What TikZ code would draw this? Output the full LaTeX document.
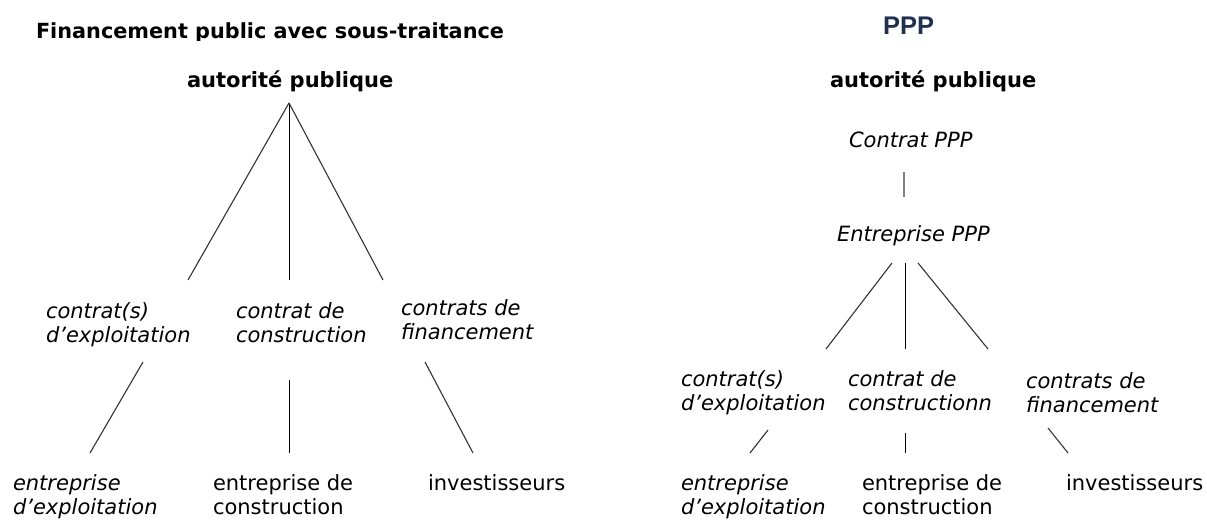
\documentclass[tikz,border=0pt]{standalone}
\usepackage{fontspec}
\setmainfont{DejaVu Sans}
\newfontfamily\headfont{Liberation Sans}
\definecolor{headblue}{HTML}{1F3050}
\begin{document}
\begin{tikzpicture}[x=1pt,y=-1pt,
  txt/.style={inner sep=0pt,outer sep=0pt,anchor=base west,font=\fontsize{21}{24}\selectfont},
  txtbold/.style={txt,font=\fontsize{21}{24}\selectfont\bfseries},
  multi/.style={inner sep=0pt,outer sep=0pt,anchor=north west,align=left,font=\fontsize{21}{24}\selectfont},
  multiit/.style={multi,font=\fontsize{21}{24}\selectfont\itshape},
  link/.style={line width=1.1pt,black!80},
  vlink/.style={line width=1pt,black},
  glink/.style={line width=1.8pt,black!50}
]
\useasboundingbox (0,0) rectangle (1207,521);
\fill[white] (0,0) rectangle (1207,521);

% ---------- left diagram ----------
\begin{scope}
\clip (0,0) rectangle (600,40.5);
\node[txt,font=\fontsize{20.8}{24}\selectfont\bfseries] (title) at (36,39) {Financement public avec sous-traitance};
\end{scope}
\node[txtbold] (apL) at (187,88) {autorité publique};
\coordinate (apexL) at (289,103);
\coordinate (l1) at (188,280);
\coordinate (m1) at (289,280);
\coordinate (r1) at (383,280);
\draw[link] (apexL) -- (l1);
\draw[vlink] (apexL) -- (m1);
\draw[link] (apexL) -- (r1);

\node[multiit] (cexL) at (46,301.2) {\strut contrat(s)\\d’exploitation};
\node[multiit] (ccoL) at (236,301.2) {\strut contrat de\\construction};
\node[multiit] (cfiL) at (401,298.2) {\strut contrats de\\financement};

\coordinate (l2a) at (143,362); \coordinate (l2b) at (90,453);
\coordinate (m2a) at (289,380); \coordinate (m2b) at (289,453);
\coordinate (r2a) at (425,362); \coordinate (r2b) at (473,453);
\draw[link] (l2a) -- (l2b);
\draw[vlink] (m2a) -- (m2b);
\draw[link] (r2a) -- (r2b);

\node[multiit] (eexL) at (13,473.2) {\strut entreprise\\d’exploitation};
\node[multi] (ecoL) at (213,473.2) {\strut entreprise de\\construction};
\node[txt] (invL) at (428,490) {investisseurs};

% ---------- right diagram ----------
\node[txt,font=\fontsize{25.5}{28}\selectfont\headfont\bfseries,text=headblue] (ppp) at (883,35) {PPP};
\node[txtbold] (apR) at (830,88) {autorité publique};
\node[txt,font=\fontsize{21}{24}\selectfont\itshape] (cppp) at (849,148) {Contrat PPP};
\coordinate (c1) at (904,172); \coordinate (c2) at (904,197);
\draw[glink] (c1) -- (c2);
\node[txt,font=\fontsize{21}{24}\selectfont\itshape] (eppp) at (837,242) {Entreprise PPP};

\coordinate (rl1a) at (892,263); \coordinate (rl1b) at (826,349);
\coordinate (rm1a) at (905,263); \coordinate (rm1b) at (905,349);
\coordinate (rr1a) at (918,263); \coordinate (rr1b) at (988,349);
\draw[link] (rl1a) -- (rl1b);
\draw[vlink] (rm1a) -- (rm1b);
\draw[link] (rr1a) -- (rr1b);

\node[multiit] (cexR) at (681,369.2) {\strut contrat(s)\\d’exploitation};
\node[multiit] (ccoR) at (848,369.2) {\strut contrat de\\constructionn};
\node[multiit] (cfiR) at (1026,371.2) {\strut contrats de\\financement};

\coordinate (rl2a) at (768,430); \coordinate (rl2b) at (750,453);
\coordinate (rm2a) at (905,433); \coordinate (rm2b) at (905,453);
\coordinate (rr2a) at (1048,428); \coordinate (rr2b) at (1068,453);
\draw[link] (rl2a) -- (rl2b);
\draw[vlink] (rm2a) -- (rm2b);
\draw[link] (rr2a) -- (rr2b);

\node[multiit] (eexR) at (681,473.2) {\strut entreprise\\d’exploitation};
\node[multi] (ecoR) at (862,473.2) {\strut entreprise de\\construction};
\node[txt] (invR) at (1066,490) {investisseurs};
\end{tikzpicture}
\end{document}
